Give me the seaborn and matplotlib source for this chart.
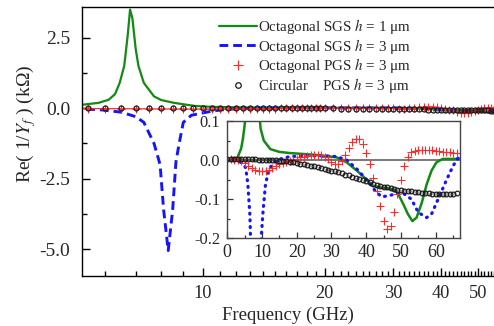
import numpy as np
import matplotlib
matplotlib.use("Agg")
import matplotlib.pyplot as plt
import seaborn as sns
from matplotlib.lines import Line2D
from matplotlib.ticker import FixedLocator, FuncFormatter, MultipleLocator

# Octagonal SGS, h = 1 um
sgs1_freq = [0, 2, 3, 4, 4.5, 5, 5.4, 5.8, 6.1, 6.3,
             6.45, 6.6, 6.72, 6.8, 6.88, 7.0, 7.1, 7.3, 7.7, 8.0,
             8.5, 9.0, 9.6, 10.5, 12.4, 15, 18, 23, 28, 31.5,
             34.4, 37.3, 40, 42, 44, 47, 49, 50.7, 52, 53.3,
             54.5, 56, 57.4, 58.8, 60.2, 62, 67]
sgs1_re = [0.0, 0.002, 0.008, 0.03, 0.055, 0.09, 0.13, 0.19, 0.3, 0.5,
           0.9, 1.5, 2.6, 3.5, 3.2, 2.1, 1.5, 0.9, 0.42, 0.29,
           0.2, 0.14, 0.08, 0.05, 0.028, 0.021, 0.018, 0.015, 0.011, 0.007,
           -0.006, -0.027, -0.049, -0.066, -0.07, -0.073, -0.083, -0.113, -0.138, -0.156,
           -0.147, -0.109, -0.062, -0.027, -0.006, 0.003, 0.003]

# Octagonal SGS, h = 3 um
sgs3_freq = [0, 3, 4.5, 5.3, 5.9, 6.5, 7.0, 7.3, 7.7, 7.95,
             8.1, 8.3, 8.5, 8.65, 8.8, 9.0, 9.4, 9.75, 10.3, 11,
             12, 13.4, 15.3, 18, 23, 28, 31.5, 34.4, 37.3, 40,
             43, 44.5, 46.4, 48.3, 50.7, 53, 55, 57.4, 58.8, 60.7,
             63, 65, 66.4, 67]
sgs3_re = [0.0, -0.002, -0.008, -0.02, -0.06, -0.14, -0.3, -0.5, -1.25, -2.0,
           -3.6, -5.05, -3.6, -1.9, -1.25, -0.5, -0.25, -0.2, -0.13, -0.062,
           -0.023, -0.006, 0.003, 0.009, 0.011, 0.011, 0.009, 0.0, -0.023, -0.049,
           -0.083, -0.094, -0.091, -0.087, -0.085, -0.1, -0.134, -0.147, -0.138, -0.1,
           -0.053, -0.015, 0.005, 0.01]

# PGS structures, sampled every 1 GHz from 0 to 66 GHz
pgs_freq = list(range(0, 67))
oct_pgs_re = [0.002, 0.002, 0.001, 0.0, -0.003, -0.007, -0.014, -0.02, -0.025, -0.028,
              -0.029, -0.028, -0.025, -0.019, -0.014, -0.011, -0.008, -0.006, -0.003, 0.0,
              0.004, 0.007, 0.009, 0.011, 0.012, 0.013, 0.013, 0.012, 0.008, 0.002,
              -0.005, -0.011, -0.011, -0.002, 0.014, 0.032, 0.047, 0.054, 0.055, 0.04,
              0.018, -0.01, -0.045, -0.08, -0.117, -0.155, -0.176, -0.168, -0.132, -0.087,
              -0.05, -0.014, 0.009, 0.02, 0.024, 0.025, 0.026, 0.026, 0.026, 0.025,
              0.024, 0.023, 0.021, 0.021, 0.02, 0.019, 0.017]
circ_pgs_re = [0.002, 0.002, 0.002, 0.002, 0.002, 0.002, 0.002, 0.002, 0.002, 0.001,
               0.001, 0.0, 0.0, -0.001, -0.001, -0.002, -0.002, -0.003, -0.004, -0.006,
               -0.007, -0.009, -0.011, -0.013, -0.015, -0.016, -0.018, -0.02, -0.022, -0.025,
               -0.027, -0.029, -0.031, -0.034, -0.037, -0.039, -0.042, -0.045, -0.048, -0.051,
               -0.054, -0.057, -0.06, -0.063, -0.066, -0.068, -0.07, -0.072, -0.074, -0.076,
               -0.077, -0.078, -0.079, -0.08, -0.081, -0.082, -0.083, -0.084, -0.085, -0.086,
               -0.086, -0.087, -0.087, -0.087, -0.087, -0.086, -0.085]

# extra half-GHz samples of the PGS structures in the low band
pgs_half_freq = [4.5, 5.5, 6.5, 7.5, 8.5, 9.5, 10.5, 11.5,
                 12.5, 13.5, 14.5, 15.5, 16.5, 17.5, 18.5, 19.5]
oct_pgs_half_re = [-0.005, -0.01, -0.017, -0.023, -0.027, -0.029, -0.029, -0.027,
                   -0.022, -0.016, -0.012, -0.009, -0.007, -0.004, -0.001, 0.002]
circ_pgs_half_re = [0.002, 0.002, 0.002, 0.002, 0.002, 0.001, 0.001, 0.0,
                    0.0, -0.001, -0.001, -0.002, -0.002, -0.003, -0.005, -0.006]

series_labels = [
    r"Octagonal SGS $h$ = 1 μm",
    r"Octagonal SGS $h$ = 3 μm",
    r"Octagonal PGS $h$ = 3 μm",
    r"Circular    PGS $h$ = 3 μm",
]
freq_major = [10, 20, 30, 40, 50]
freq_minor = [6, 7, 8, 9] + [f for f in range(11, 67) if f % 10 != 0]

GREEN = "#138a13"
BLUE = "#1414ff"
RED = "#ff2a2a"
BLACK = "#1a1a1a"

sns.set_theme(style="ticks")
plt.rcParams.update({
    "font.family": ["Liberation Serif", "DejaVu Serif"],
    "mathtext.fontset": "stix",
    "axes.unicode_minus": False,
    "xtick.direction": "in",
    "ytick.direction": "in",
    "axes.edgecolor": "black",
    "axes.linewidth": 1.0,
})

fig = plt.figure(figsize=(4.94, 3.26), dpi=100)
W, H = 494.0, 326.0

# main axes: log-like frequency scale
L, R, T, B = 82.3, 526.0, 7.3, 275.7
ax = fig.add_axes([L / W, 1 - B / H, (R - L) / W, (B - T) / H])
ax.set_xscale("function", functions=(lambda f: np.log10(np.clip(f - 1.2, 1e-3, None)),
                                     lambda u: 10.0 ** u + 1.2))


def band(f, v, fmin=4.0):
    f = np.asarray(f, float)
    v = np.asarray(v, float)
    keep = f >= fmin
    return f[keep], v[keep]


def merged(f_a, v_a, f_b, v_b):
    f = np.concatenate([f_a, f_b])
    v = np.concatenate([v_a, v_b])
    order = np.argsort(f)
    return band(f[order], v[order])


f1, v1 = band(sgs1_freq, sgs1_re)
f3, v3 = band(sgs3_freq, sgs3_re)
fo, vo = merged(pgs_freq, oct_pgs_re, pgs_half_freq, oct_pgs_half_re)
fc, vc = merged(pgs_freq, circ_pgs_re, pgs_half_freq, circ_pgs_half_re)

sns.lineplot(x=f1, y=v1, ax=ax, color=GREEN, lw=1.6, sort=False, estimator=None)
sns.lineplot(x=f3, y=v3, ax=ax, color=BLUE, lw=2.1, sort=False, estimator=None,
             linestyle=(0, (3.0, 1.7)))
sns.lineplot(x=fo, y=vo, ax=ax, color=RED, lw=0.9, sort=False, estimator=None,
             marker="+", ms=6, mec=RED, mew=0.8)
sns.lineplot(x=fc, y=vc, ax=ax, color=BLACK, sort=False, estimator=None,
             marker="o", ms=3.6, mec=BLACK, mfc="none", mew=0.9, linestyle="none")

ax.set_xlim(5.36, 67)
ax.set_ylim(-5.94, 3.58)
ax.xaxis.set_major_locator(FixedLocator(freq_major))
ax.xaxis.set_minor_locator(FixedLocator(freq_minor))
ax.xaxis.set_major_formatter(FuncFormatter(lambda v, p: f"{v:g}"))
ax.xaxis.set_minor_formatter(FuncFormatter(lambda v, p: ""))
ax.yaxis.set_major_locator(MultipleLocator(2.5))
ax.yaxis.set_minor_locator(MultipleLocator(1.25))
ax.yaxis.set_major_formatter(FuncFormatter(lambda v, p: f"{v:.1f}"))
ax.tick_params(which="major", length=6, width=1.0, color="black")
ax.tick_params(which="minor", length=3.6, width=1.0, color="black")
ax.tick_params(axis="x", labelsize=13.2, pad=7)
ax.tick_params(axis="y", labelsize=14, pad=8.5)
ax.spines["right"].set_visible(False)
ax.set_xlabel("Frequency (GHz)", fontsize=13.5)
ax.set_ylabel(r"Re( 1/$Y_f$ ) (kΩ)", fontsize=14)
ax.xaxis.set_label_coords(0.4636, -0.115)
ax.yaxis.set_label_coords(-0.1, 0.565)

handles = [
    Line2D([], [], color=GREEN, lw=1.6),
    Line2D([], [], color=BLUE, lw=2.1, linestyle=(0, (3.0, 1.7))),
    Line2D([], [], color=RED, linestyle="none", marker="+", ms=7, mew=0.8),
    Line2D([], [], color=BLACK, linestyle="none", marker="o", ms=4, mfc="none", mew=0.9),
]
fig.legend(handles, series_labels, loc="upper left",
           bbox_to_anchor=(219 / W, 1 - 17 / H), bbox_transform=fig.transFigure,
           frameon=False, fontsize=10.8, borderpad=0, borderaxespad=0,
           handlelength=2.5, handletextpad=0.1, labelspacing=0.04, numpoints=1)

# inset: linear frequency axis, zoom near zero
iL, iR, iT, iB = 227.3, 460.0, 121.0, 238.3
axi = fig.add_axes([iL / W, 1 - iB / H, (iR - iL) / W, (iB - iT) / H])
axi.set_facecolor("white")
axi.set_zorder(3)
axi.axhline(0, color="#555555", lw=1.1, zorder=1)
sns.lineplot(x=sgs1_freq, y=sgs1_re, ax=axi, color=GREEN, lw=1.8, sort=False, estimator=None)
sns.lineplot(x=sgs3_freq, y=sgs3_re, ax=axi, color=BLUE, lw=2.3, sort=False, estimator=None,
             linestyle=(0, (0.3, 1.8)), dash_capstyle="round")
sns.lineplot(x=pgs_freq, y=oct_pgs_re, ax=axi, color=RED, sort=False, estimator=None,
             marker="+", ms=5.5, mec=RED, mew=0.8, linestyle="none")
sns.lineplot(x=pgs_freq, y=circ_pgs_re, ax=axi, color=BLACK, sort=False, estimator=None,
             marker="o", ms=3.4, mec=BLACK, mfc="none", mew=0.9, linestyle="none")
axi.set_xlim(0, 67)
axi.set_ylim(-0.2, 0.1)
axi.xaxis.set_major_locator(MultipleLocator(10))
axi.xaxis.set_minor_locator(MultipleLocator(5))
axi.yaxis.set_major_locator(MultipleLocator(0.1))
axi.yaxis.set_minor_locator(MultipleLocator(0.05))
axi.yaxis.set_major_formatter(FuncFormatter(lambda v, p: f"{v:.1f}"))
axi.tick_params(which="major", length=4, width=0.9, color="#333333")
axi.tick_params(which="minor", length=2.5, width=0.9, color="#333333")
axi.tick_params(axis="x", labelsize=13, pad=4)
axi.tick_params(axis="y", labelsize=11.8, pad=5)
for s in axi.spines.values():
    s.set_color("#444444")
    s.set_linewidth(1.0)
axi.set_xlabel("")
axi.set_ylabel("")

fig.savefig("out.png", dpi=100)
